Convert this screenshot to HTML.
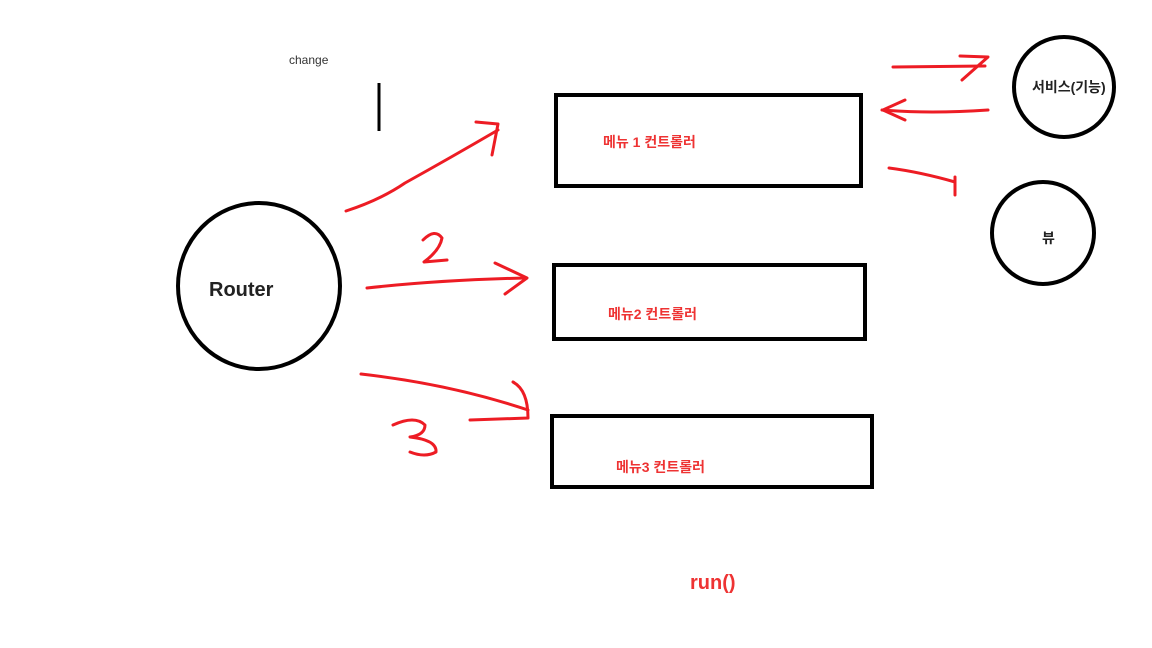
<!DOCTYPE html>
<html><head><meta charset="utf-8"><style>
html,body{margin:0;padding:0;background:#fff;}
svg{display:block;}
.k{font-family:"Liberation Sans","Noto Sans CJK KR",sans-serif;}
</style></head><body>
<svg width="1152" height="648" viewBox="0 0 1152 648">
<rect width="1152" height="648" fill="#fff"/>
<text x="289" y="64" font-size="12" fill="#333" class="k">change</text>
<line x1="379" y1="83" x2="379" y2="131" stroke="#000" stroke-width="3"/>
<ellipse cx="259" cy="286" rx="81" ry="83" fill="none" stroke="#000" stroke-width="4"/>
<text x="209" y="296" font-size="20" font-weight="bold" fill="#222" class="k">Router</text>
<rect x="556" y="95" width="305" height="91" fill="none" stroke="#000" stroke-width="4"/>
<rect x="554" y="265" width="311" height="74" fill="none" stroke="#000" stroke-width="4"/>
<rect x="552" y="416" width="320" height="71" fill="none" stroke="#000" stroke-width="4"/>
<circle cx="1064" cy="87" r="50" fill="none" stroke="#000" stroke-width="4"/>
<circle cx="1043" cy="233" r="51" fill="none" stroke="#000" stroke-width="4"/>
<g class="k" font-weight="bold" fill="#ee3333" font-size="14">
<text x="603" y="147">메뉴 1 컨트롤러</text>
<text x="608" y="319">메뉴2 컨트롤러</text>
<text x="616" y="472">메뉴3 컨트롤러</text>
<text x="690" y="589" font-size="20">run()</text>
</g>
<g class="k" font-weight="bold" fill="#222" font-size="14">
<text x="1032" y="92">서비스(기능)</text>
<text x="1042" y="243">뷰</text>
</g>
<g fill="none" stroke="#ed1c24" stroke-width="3" stroke-linecap="round" stroke-linejoin="round">
<path d="M346 211 Q380 200 405 183 Q450 158 498 130"/>
<path d="M476 122 L498 124 L492 155"/>
<path d="M367 288 Q440 280 525 278"/>
<path d="M495 263 L527 278 L505 294"/>
<path d="M423 240 Q435 228 442 238 Q440 250 424 262 L447 260"/>
<path d="M361 374 Q450 384 528 410"/>
<path d="M513 382 Q528 390 528 418 L470 420"/>
<path d="M393 425 Q415 415 425 425 Q425 435 410 437 Q437 440 436 452 Q425 458 410 452"/>
<path d="M893 67 L985 66"/>
<path d="M960 56 L988 57 L962 80"/>
<path d="M988 110 Q930 114 882 110"/>
<path d="M905 100 L883 110 L905 120"/>
<path d="M889 168 Q920 172 955 182"/>
<path d="M955 177 L955 195"/>
</g>
</svg>
</body></html>
